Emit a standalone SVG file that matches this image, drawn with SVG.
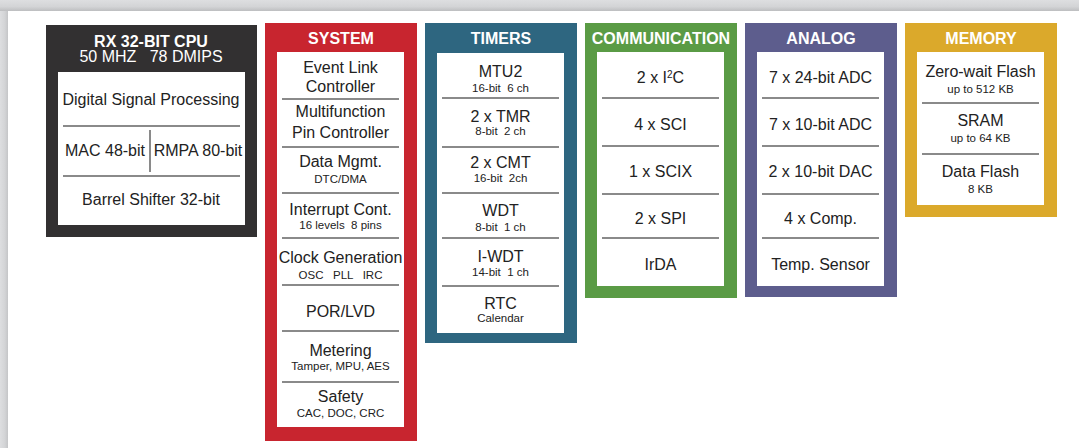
<svg xmlns="http://www.w3.org/2000/svg" width="1079" height="448" viewBox="0 0 1079 448">
<defs>
<linearGradient id="gTop" x1="0" y1="0" x2="0" y2="1"><stop offset="0" stop-color="#dddee0"/><stop offset="0.6" stop-color="#d3d4d6"/><stop offset="1" stop-color="#bdbec0"/></linearGradient>
<linearGradient id="gLeft" x1="0" y1="0" x2="1" y2="0"><stop offset="0" stop-color="#dddee0"/><stop offset="0.6" stop-color="#d3d4d6"/><stop offset="1" stop-color="#c4c5c7"/></linearGradient>
<style>
text{font-family:"Liberation Sans",Arial,sans-serif;text-anchor:middle;fill:#222}
.h{font-weight:bold;font-size:16px;fill:#fff}
.hr{font-size:16px;fill:#fff}
.m{font-size:16px}
.s{font-size:11.5px}
.w{fill:#fff}
.d{stroke:#8a8a8a;stroke-width:2;fill:none}
</style>
</defs>
<rect x="0" y="0" width="1079" height="448" fill="#ffffff"/>
<rect x="0" y="0" width="1079" height="11" fill="url(#gTop)"/>
<rect x="0" y="11" width="8" height="437" fill="url(#gLeft)"/>

<g id="cpu">
<rect x="46" y="25" width="211" height="212" fill="#323031"/>
<text class="h" x="151" y="47">RX 32-BIT CPU</text>
<text class="hr" x="151" y="62" xml:space="preserve">50 MHZ   78 DMIPS</text>
<rect class="w" x="58" y="72" width="187" height="153"/>
<text class="m" x="151" y="105">Digital Signal Processing</text>
<line class="d" x1="63" y1="126" x2="240" y2="126"/>
<text class="m" x="105" y="156">MAC 48-bit</text>
<line class="d" x1="150" y1="130" x2="150" y2="172"/>
<text class="m" x="198" y="156">RMPA 80-bit</text>
<line class="d" x1="63" y1="176" x2="240" y2="176"/>
<text class="m" x="151" y="205">Barrel Shifter 32-bit</text>
</g>

<g id="system">
<rect x="265" y="23" width="152" height="418" fill="#c8252f"/>
<text class="h" x="341" y="44">SYSTEM</text>
<rect class="w" x="277" y="52" width="127" height="375"/>
<text class="m" x="340.5" y="73">Event Link</text>
<text class="m" x="340.5" y="92">Controller</text>
<line class="d" x1="282" y1="99" x2="399" y2="99"/>
<text class="m" x="340.5" y="117">Multifunction</text>
<text class="m" x="340.5" y="138">Pin Controller</text>
<line class="d" x1="282" y1="147" x2="399" y2="147"/>
<text class="m" x="340.5" y="167">Data Mgmt.</text>
<text class="s" x="340.5" y="183">DTC/DMA</text>
<line class="d" x1="282" y1="193" x2="399" y2="193"/>
<text class="m" x="340.5" y="215">Interrupt Cont.</text>
<text class="s" x="340.5" y="229" xml:space="preserve">16 levels  8 pins</text>
<line class="d" x1="282" y1="238" x2="399" y2="238"/>
<text class="m" x="340.5" y="263">Clock Generation</text>
<text class="s" x="340.5" y="279" xml:space="preserve">OSC   PLL   IRC</text>
<line class="d" x1="282" y1="285" x2="399" y2="285"/>
<text class="m" x="340.5" y="317">POR/LVD</text>
<line class="d" x1="282" y1="331" x2="399" y2="331"/>
<text class="m" x="340.5" y="356">Metering</text>
<text class="s" x="340.5" y="370">Tamper, MPU, AES</text>
<line class="d" x1="282" y1="382" x2="399" y2="382"/>
<text class="m" x="340.5" y="402">Safety</text>
<text class="s" x="340.5" y="417">CAC, DOC, CRC</text>
</g>

<g id="timers">
<rect x="425" y="23" width="152" height="320" fill="#2e6680"/>
<text class="h" x="501" y="44">TIMERS</text>
<rect class="w" x="437" y="53" width="127" height="280"/>
<text class="m" x="500.5" y="77">MTU2</text>
<text class="s" x="500.5" y="92" xml:space="preserve">16-bit  6 ch</text>
<line class="d" x1="442" y1="98" x2="559" y2="98"/>
<text class="m" x="500.5" y="122">2 x TMR</text>
<text class="s" x="500.5" y="135" xml:space="preserve">8-bit  2 ch</text>
<line class="d" x1="442" y1="147" x2="559" y2="147"/>
<text class="m" x="500.5" y="168">2 x CMT</text>
<text class="s" x="500.5" y="182" xml:space="preserve">16-bit  2ch</text>
<line class="d" x1="442" y1="193" x2="559" y2="193"/>
<text class="m" x="500.5" y="216">WDT</text>
<text class="s" x="500.5" y="231" xml:space="preserve">8-bit  1 ch</text>
<line class="d" x1="442" y1="238" x2="559" y2="238"/>
<text class="m" x="500.5" y="262">I-WDT</text>
<text class="s" x="500.5" y="276" xml:space="preserve">14-bit  1 ch</text>
<line class="d" x1="442" y1="286" x2="559" y2="286"/>
<text class="m" x="500.5" y="309">RTC</text>
<text class="s" x="500.5" y="322">Calendar</text>
</g>

<g id="communication">
<rect x="585" y="23" width="152" height="275" fill="#5a9b45"/>
<text class="h" x="661" y="44">COMMUNICATION</text>
<rect class="w" x="597" y="52" width="127" height="234"/>
<text class="m" x="660.5" y="83">2 x I<tspan font-size="10" dy="-5">2</tspan><tspan dy="5">C</tspan></text>
<line class="d" x1="602" y1="98" x2="719" y2="98"/>
<text class="m" x="660.5" y="130">4 x SCI</text>
<line class="d" x1="602" y1="146" x2="719" y2="146"/>
<text class="m" x="660.5" y="177">1 x SCIX</text>
<line class="d" x1="602" y1="194" x2="719" y2="194"/>
<text class="m" x="660.5" y="224">2 x SPI</text>
<line class="d" x1="602" y1="238" x2="719" y2="238"/>
<text class="m" x="660.5" y="270">IrDA</text>
</g>

<g id="analog">
<rect x="745" y="23" width="152" height="274" fill="#5d5d8d"/>
<text class="h" x="821" y="44">ANALOG</text>
<rect class="w" x="757" y="52" width="127" height="234"/>
<text class="m" x="820.5" y="83">7 x 24-bit ADC</text>
<line class="d" x1="762" y1="98" x2="879" y2="98"/>
<text class="m" x="820.5" y="130">7 x 10-bit ADC</text>
<line class="d" x1="762" y1="146" x2="879" y2="146"/>
<text class="m" x="820.5" y="177">2 x 10-bit DAC</text>
<line class="d" x1="762" y1="194" x2="879" y2="194"/>
<text class="m" x="820.5" y="224">4 x Comp.</text>
<line class="d" x1="762" y1="238" x2="879" y2="238"/>
<text class="m" x="820.5" y="270">Temp. Sensor</text>
</g>

<g id="memory">
<rect x="905" y="23" width="152" height="194" fill="#dba92b"/>
<text class="h" x="981" y="44">MEMORY</text>
<rect class="w" x="917" y="52" width="127" height="153"/>
<text class="m" x="980.5" y="77">Zero-wait Flash</text>
<text class="s" x="980.5" y="93">up to 512 KB</text>
<line class="d" x1="922" y1="103" x2="1039" y2="103"/>
<text class="m" x="980.5" y="126">SRAM</text>
<text class="s" x="980.5" y="142">up to 64 KB</text>
<line class="d" x1="922" y1="154" x2="1039" y2="154"/>
<text class="m" x="980.5" y="177">Data Flash</text>
<text class="s" x="980.5" y="193">8 KB</text>
</g>

<g id="connectors"></g>
</svg>
